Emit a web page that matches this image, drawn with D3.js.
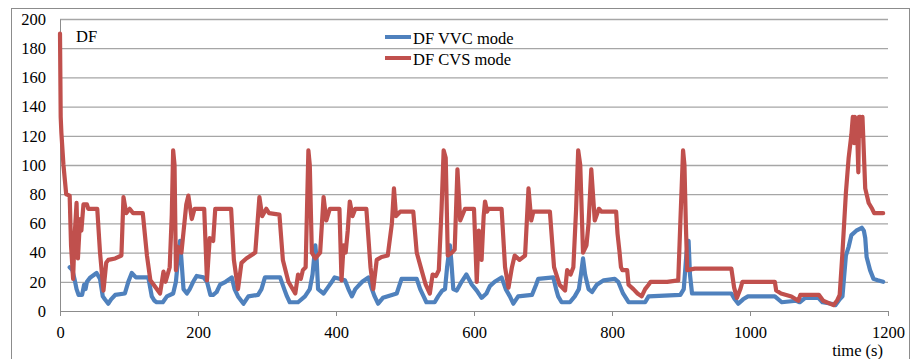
<!DOCTYPE html>
<html>
<head>
    <title>DF VVC / CVS mode</title>
    <script src="https://d3js.org/d3.v7.min.js"></script>
    <style>
        body { margin: 0; background: #fff; }
        .axis path, .axis line { stroke: #8c8c8c; }
        .grid line { stroke: #a6a6a6; stroke-width: 1.3; }
        .grid path { display: none; }
        .label { font-family: "Liberation Serif", "Times New Roman", serif; font-size: 16.5px; fill: #000; }
        .series { fill: none; stroke-width: 4.2; stroke-linejoin: round; stroke-linecap: round; }
    </style>
</head>
<body>
<div id="chart"></div>
<script>
    // time (s), DF
    const vvcMode = [[14,30],[18,28],[21,22],[24,15],[27,11],[32,11],[35,18],[37,15],[39,20],[44,23],[53,26],[58,22],[62,10],[65,8],[70,5],[74,8],[80,11],[94,12],[99,20],[104,26],[110,23],[128,23],[133,10],[137,7],[140,6],[149,6],[155,10],[164,12],[168,20],[171,35],[174,48],[176,35],[179,15],[184,12],[188,15],[193,20],[198,24],[208,23],[213,20],[218,11],[222,11],[227,13],[232,18],[240,20],[249,23],[253,15],[258,10],[266,5],[273,10],[287,11],[292,15],[297,23],[319,23],[325,15],[329,10],[333,6],[345,6],[355,10],[362,15],[366,25],[370,45],[372,35],[374,15],[382,12],[388,16],[394,20],[398,23],[413,21],[418,15],[423,10],[428,15],[432,17],[438,20],[447,23],[452,15],[456,10],[461,5],[468,9],[481,11],[488,12],[495,22],[517,22],[522,15],[527,10],[531,6],[543,6],[548,10],[554,14],[558,15],[561,30],[565,45],[567,35],[570,15],[575,14],[582,20],[589,25],[597,18],[604,14],[611,9],[618,12],[623,17],[630,20],[640,23],[646,15],[652,10],[657,5],[664,10],[684,11],[690,18],[693,22],[715,23],[719,15],[722,10],[727,6],[739,6],[746,10],[752,15],[755,25],[758,36],[761,25],[766,15],[771,13],[778,18],[788,21],[804,22],[809,20],[816,12],[824,6],[848,6],[853,10],[899,11],[904,15],[908,40],[911,48],[913,25],[916,12],[930,12],[973,12],[978,8],[983,5],[990,8],[997,10],[1036,10],[1046,6],[1067,7],[1072,6],[1080,9],[1099,9],[1105,6],[1118,5],[1124,4],[1130,8],[1134,10],[1139,38],[1143,44],[1147,52],[1154,55],[1162,57],[1165,55],[1167,50],[1169,37],[1174,28],[1179,22],[1185,21],[1193,20]];

    const cvsMode = [[0,190],[1,133],[2,122],[5,100],[9,80],[14,79],[16,45],[19,22],[21,50],[24,74],[26,36],[29,63],[31,55],[34,73],[39,73],[41,70],[54,70],[58,40],[63,14],[67,33],[70,35],[80,36],[89,38],[92,78],[96,67],[101,70],[106,67],[120,67],[126,38],[131,21],[145,12],[150,27],[153,20],[156,25],[159,30],[162,66],[164,110],[166,100],[168,28],[171,44],[176,40],[183,73],[186,79],[191,63],[195,70],[209,70],[213,21],[217,50],[222,48],[225,70],[248,70],[252,35],[258,15],[263,33],[270,36],[283,40],[289,78],[293,65],[299,70],[303,67],[318,66],[323,35],[331,20],[341,12],[345,25],[349,22],[352,28],[356,30],[358,70],[360,110],[362,100],[365,40],[370,36],[377,40],[382,78],[386,62],[391,70],[405,70],[408,21],[411,45],[414,40],[417,55],[420,75],[424,65],[428,70],[444,70],[450,30],[454,15],[459,35],[466,37],[475,38],[481,60],[484,84],[487,65],[493,68],[512,68],[517,40],[524,28],[530,18],[536,12],[540,25],[545,24],[549,28],[553,70],[556,110],[559,105],[562,38],[568,40],[572,42],[576,97],[580,62],[587,70],[600,70],[604,20],[607,55],[611,35],[614,65],[616,75],[619,68],[621,70],[640,70],[645,30],[650,16],[655,30],[659,38],[666,35],[674,38],[679,84],[683,62],[686,68],[710,68],[716,30],[724,18],[732,14],[735,28],[740,25],[744,30],[748,70],[751,110],[754,100],[758,40],[763,45],[766,60],[770,97],[775,62],[781,70],[785,68],[806,68],[808,53],[811,40],[813,30],[815,28],[822,28],[824,18],[831,15],[837,12],[843,10],[848,15],[853,18],[856,20],[880,20],[896,21],[899,60],[903,110],[905,100],[907,60],[909,28],[920,29],[950,29],[973,29],[977,16],[981,9],[986,15],[989,20],[1036,20],[1038,14],[1045,12],[1060,10],[1070,7],[1073,11],[1100,11],[1106,7],[1121,4],[1126,7],[1130,11],[1134,40],[1139,81],[1143,105],[1147,121],[1149,133],[1151,115],[1152,133],[1155,128],[1157,95],[1158,133],[1160,133],[1162,120],[1163,133],[1167,84],[1172,74],[1177,70],[1180,67],[1193,67]];

    const xTicks = [0, 200, 400, 600, 800, 1000, 1200];
    const yTicks = [0, 20, 40, 60, 80, 100, 120, 140, 160, 180, 200];
    const seriesNames = ["DF VVC mode", "DF CVS mode"];
    const seriesColors = ["#4f81bd", "#c0504d"];

    const W = 914, H = 359;
    const margin = { top: 19, right: 26, bottom: 48, left: 60 };
    const width = W - margin.left - margin.right;
    const height = H - margin.top - margin.bottom;

    const root = d3.select("#chart").append("svg")
        .attr("width", W)
        .attr("height", H);

    // frame of the chart area
    root.append("rect")
        .attr("x", 11.5).attr("y", 8.5)
        .attr("width", 898).attr("height", 380)
        .attr("fill", "none").attr("stroke", "#8c8c8c");

    const svg = root.append("g")
        .attr("transform", `translate(${margin.left},${margin.top})`);

    const x = d3.scaleLinear().domain([0, 1200]).range([0, width]);
    const y = d3.scaleLinear().domain([0, 200]).range([height, 0]);

    // gridlines
    svg.append("g")
        .attr("class", "grid")
        .call(d3.axisLeft(y).tickValues(yTicks.slice(1)).tickSize(-width).tickFormat(""));

    const yAxis = svg.append("g")
        .attr("class", "axis")
        .call(d3.axisLeft(y).tickValues(yTicks).tickSize(0).tickPadding(14).tickFormat(d3.format("d")));

    const xAxis = svg.append("g")
        .attr("class", "axis")
        .attr("transform", `translate(0,${height})`)
        .call(d3.axisBottom(x).tickValues(xTicks).tickSize(5).tickSizeOuter(0).tickPadding(10).tickFormat(d3.format("d")));

    // tick labels in the same serif face as the rest
    [yAxis, xAxis].forEach(g => {
        g.selectAll("text")
            .attr("class", "label")
            .attr("fill", "#000");
    });

    const line = d3.line()
        .x(d => x(d[0]))
        .y(d => y(d[1]));

    [vvcMode, cvsMode].forEach((data, i) => {
        svg.append("path")
            .datum(data)
            .attr("class", "series")
            .attr("stroke", seriesColors[i])
            .attr("d", line);
    });

    // legend
    const legend = root.append("g").attr("transform", "translate(385,37)");
    seriesNames.forEach((name, i) => {
        const row = legend.append("g").attr("transform", `translate(0,${i * 21})`);
        row.append("line")
            .attr("x1", 0).attr("x2", 26)
            .attr("stroke", seriesColors[i]).attr("stroke-width", 4);
        row.append("text")
            .attr("class", "label")
            .attr("x", 28).attr("y", 6.5)
            .text(name);
    });

    root.append("text")
        .attr("class", "label")
        .attr("x", 76).attr("y", 42)
        .text("DF");

    root.append("text")
        .attr("class", "label")
        .attr("x", 883).attr("y", 356)
        .attr("text-anchor", "end")
        .attr("xml:space", "preserve")
        .text("time (s)");
</script>
</body>
</html>
